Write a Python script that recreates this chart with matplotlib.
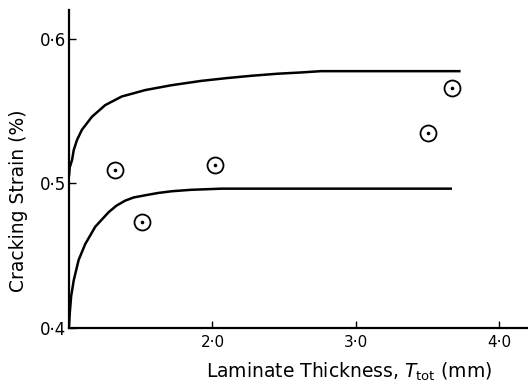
import matplotlib
matplotlib.use("Agg")
import matplotlib.pyplot as plt

# ── Data ───────────────────────────────────────────────────────────────────────
upper_x = [1.0, 1.005, 1.021, 1.033, 1.056, 1.090, 1.160, 1.252, 1.30, 1.368,
           1.45, 1.530, 1.715, 1.924, 2.10, 2.271, 2.45, 2.618, 2.757, 3.73]
upper_y = [0.505, 0.511, 0.516, 0.523, 0.530, 0.537, 0.546, 0.554, 0.5565, 0.560,
           0.5622, 0.5644, 0.5678, 0.5708, 0.5727, 0.5743, 0.5757, 0.5766, 0.5775,
           0.5775]

lower_x = [1.0, 1.005, 1.015, 1.033, 1.067, 1.113, 1.183, 1.276, 1.33, 1.391,
           1.45, 1.530, 1.62, 1.715, 1.85, 2.063, 3.67]
lower_y = [0.401, 0.410, 0.422, 0.433, 0.447, 0.458, 0.470, 0.480, 0.4845, 0.488,
           0.4902, 0.4917, 0.4933, 0.4945, 0.4955, 0.4963, 0.4963]

pts_x = [1.32, 1.51, 2.02, 3.50, 3.67]
pts_y = [0.509, 0.473, 0.5125, 0.535, 0.566]

xticks = [2.0, 3.0, 4.0]
xtick_labels = ["2·0", "3·0", "4·0"]
yticks = [0.4, 0.5, 0.6]
ytick_labels = ["0·4", "0·5", "0·6"]

plt.rcParams.update({
    "font.family": "DejaVu Sans",
    "axes.spines.top": False,
    "axes.spines.right": False,
})

fig = plt.figure(figsize=(5.28, 3.88), dpi=100)
ax = fig.add_axes([0.1307, 0.1546, 0.8693, 0.8194])

ax.plot(upper_x, upper_y, color="black", linewidth=1.8, solid_capstyle="butt")
ax.plot(lower_x, lower_y, color="black", linewidth=1.8, solid_capstyle="butt")

ax.plot(pts_x, pts_y, linestyle="none", marker="o", markersize=11.5,
        markerfacecolor="white", markeredgecolor="black", markeredgewidth=1.3)
ax.plot(pts_x, pts_y, linestyle="none", marker="o", markersize=1.6,
        color="black")

ax.set_xlim(1.0, 4.20)
ax.set_ylim(0.4, 0.6197)

ax.set_xticks(xticks)
ax.set_xticklabels(xtick_labels, fontsize=11)
ax.set_yticks(yticks)
ax.set_yticklabels(ytick_labels, fontsize=12)
ax.tick_params(direction="in", length=5, width=1.0)
ax.tick_params(axis="x", pad=5)
ax.tick_params(axis="y", pad=2)

for s in ("left", "bottom"):
    ax.spines[s].set_linewidth(1.6)
    ax.spines[s].set_color("black")

ax.set_ylabel("Cracking Strain (%)", fontsize=13.5)
ax.yaxis.set_label_coords(-0.089, 0.40)
fig.text(0.661, 0.012, r"Laminate Thickness, $T_{\rm tot}$ (mm)", fontsize=13.5,
         ha="center", va="bottom")

fig.savefig("out.png", dpi=100)
